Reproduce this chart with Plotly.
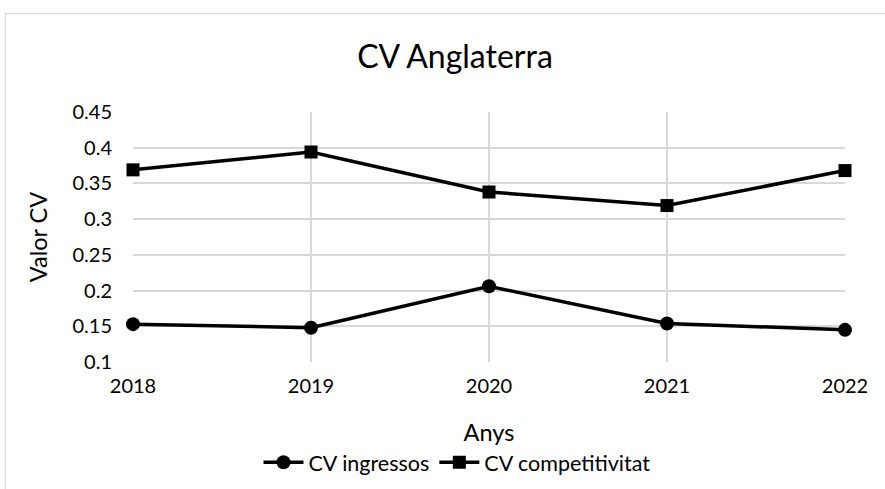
import plotly.graph_objects as go

years = [2018, 2019, 2020, 2021, 2022]
cv_ingressos = [0.153, 0.148, 0.206, 0.154, 0.145]
cv_competitivitat = [0.369, 0.394, 0.338, 0.319, 0.368]
y_ticks = [0.1, 0.15, 0.2, 0.25, 0.3, 0.35, 0.4, 0.45]
y_tick_labels = ["0.1", "0.15", "0.2", "0.25", "0.3", "0.35", "0.4", "0.45"]
x_tick_labels = [str(y) for y in years]

FONT = "Lato, Carlito, Calibri, sans-serif"

fig = go.Figure()
fig.add_trace(go.Scatter(
    x=years, y=cv_ingressos, name="CV ingressos", mode="lines+markers",
    line=dict(color="black", width=3.5),
    marker=dict(symbol="circle", size=14, color="black"),
    cliponaxis=False,
))
fig.add_trace(go.Scatter(
    x=years, y=cv_competitivitat, name="CV competitivitat", mode="lines+markers",
    line=dict(color="black", width=3.5),
    marker=dict(symbol="square", size=13, color="black"),
    cliponaxis=False,
))

W, H = 885, 489
L, R, T, B = 133, 40, 112, 126.5
pw, ph = W - L - R, H - T - B

def px_x(p):
    return (p - L) / pw

def px_y(p):
    return (H - B - p) / ph

fig.update_layout(
    width=W, height=H,
    margin=dict(l=L, r=R, t=T, b=B, autoexpand=False),
    paper_bgcolor="white", plot_bgcolor="white",
    font=dict(family=FONT, size=20, color="black"),
    title=dict(text="CV Anglaterra", x=455 / W, xanchor="center",
               y=1 - 57 / H, yanchor="middle", yref="container",
               font=dict(size=32, family=FONT, color="black")),
    xaxis=dict(
        range=[2018, 2022], tickvals=years, ticktext=x_tick_labels,
        showgrid=True, gridcolor="#d9d9d9", gridwidth=1.5,
        showline=False, zeroline=False, ticks="",
        ticklabelstandoff=10,
        title=dict(text="Anys", standoff=28, font=dict(size=23.5)),
    ),
    yaxis=dict(
        range=[0.1, 0.45], tickvals=y_ticks, ticktext=y_tick_labels,
        showgrid=True, gridcolor="#d9d9d9", gridwidth=1.5,
        showline=False, zeroline=False, ticks="",
        ticklabelstandoff=20,
        title=dict(text="Valor CV", standoff=18, font=dict(size=23.5)),
    ),
    showlegend=True,
    legend=dict(orientation="h", x=px_x(457), xanchor="center",
                y=px_y(463), yanchor="middle",
                font=dict(size=21.5), itemwidth=40, bgcolor="rgba(0,0,0,0)"),
    shapes=[dict(type="rect", xref="paper", yref="paper",
                 x0=px_x(5.5), x1=px_x(W + 20), y0=px_y(H + 20), y1=px_y(13.5),
                 line=dict(color="#d9d9d9", width=1.3), fillcolor="rgba(0,0,0,0)",
                 layer="below")],
)

fig.write_html(
    "out.html",
    config={"displayModeBar": False},
    post_script="document.body.style.margin='0';document.body.style.overflow='hidden';",
)
